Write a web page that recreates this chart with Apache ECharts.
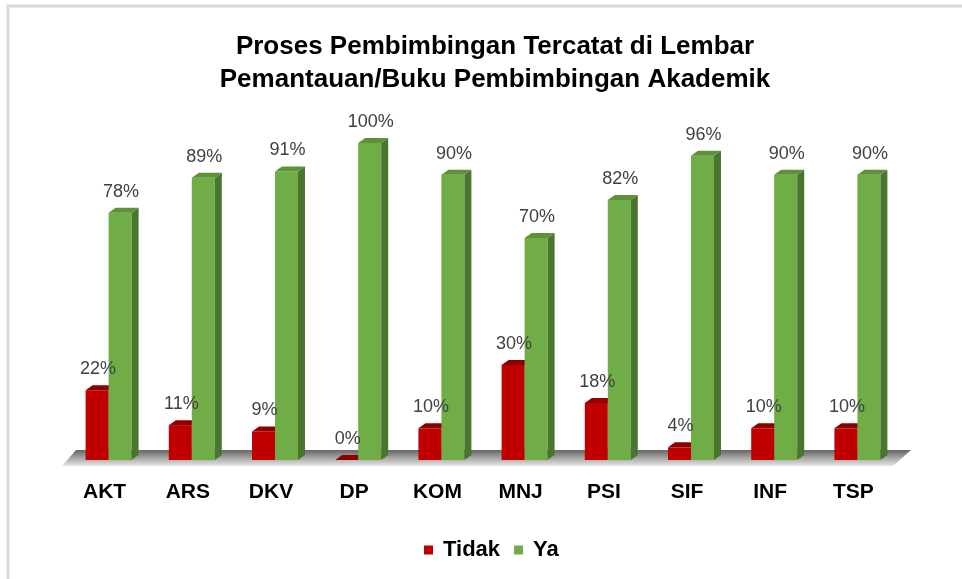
<!DOCTYPE html>
<html>
<head>
<meta charset="utf-8">
<script src="https://cdn.jsdelivr.net/npm/echarts@6/dist/echarts.min.js"></script>
<style>
  html, body { margin: 0; padding: 0; background: #fff; }
  #chart { width: 962px; height: 579px; }
</style>
</head>
<body>
<div id="chart"></div>
<script>
const categories = ['AKT', 'ARS', 'DKV', 'DP', 'KOM', 'MNJ', 'PSI', 'SIF', 'INF', 'TSP'];
const tidakValues = [22, 11, 9, 0, 10, 30, 18, 4, 10, 10];
const yaValues = [78, 89, 91, 100, 90, 70, 82, 96, 90, 90];

const FONT = '"Liberation Sans", Arial, sans-serif';
const BAR_W = 23;
const DEPTH_X = 7;
const DEPTH_Y = 5;

const palette = {
  Tidak: { front: '#C00000', top: '#8E0000', side: '#7A0000' },
  Ya: { front: '#70AD47', top: '#5C9138', side: '#4A7530' }
};

// draws one 3d-looking bar: front face, right side, top face
const makeBar = (name, offset) => (params, api) => {
  const idx = api.value(0);
  const val = api.value(1);
  const base = api.coord([idx, 0]);
  const top = api.coord([idx, val]);
  const left = base[0] + offset;
  const right = left + BAR_W;
  const yTop = top[1];
  const yBase = base[1];
  const c = palette[name];
  return {
    type: 'group',
    children: [
      {
        type: 'rect',
        shape: { x: left, y: yTop, width: BAR_W, height: yBase - yTop },
        style: { fill: c.front }
      },
      {
        type: 'polygon',
        shape: { points: [[right, yTop], [right + DEPTH_X, yTop - DEPTH_Y], [right + DEPTH_X, yBase - DEPTH_Y], [right, yBase]] },
        style: { fill: c.side }
      },
      {
        type: 'polygon',
        shape: { points: [[left, yTop], [left + DEPTH_X, yTop - DEPTH_Y], [right + DEPTH_X, yTop - DEPTH_Y], [right, yTop]] },
        style: { fill: c.top }
      }
    ]
  };
};

// value label above a bar, drawn in its own series so it sits over the bars
const makeLabel = (offset) => (params, api) => {
  const idx = api.value(0);
  const val = api.value(1);
  const base = api.coord([idx, 0]);
  const top = api.coord([idx, val]);
  return {
    type: 'text',
    x: base[0] + offset + BAR_W / 2 + 1,
    y: top[1] - 21,
    style: {
      text: val + '%',
      fill: '#404040',
      fontSize: 18,
      fontFamily: FONT,
      align: 'center',
      verticalAlign: 'middle'
    }
  };
};

// grey floor under the bars
const renderFloor = (params) => {
  const cs = params.coordSys;
  const yBase = cs.y + cs.height;
  return {
    type: 'polygon',
    shape: {
      points: [
        [cs.x + 9, yBase - 10],
        [cs.x + cs.width + 12, yBase - 10],
        [cs.x + cs.width - 6, yBase + 6],
        [cs.x - 5, yBase + 6]
      ]
    },
    style: {
      fill: new echarts.graphic.LinearGradient(0, 0, 0, 1, [
        { offset: 0, color: '#666666' },
        { offset: 1, color: '#e6e6e6' }
      ])
    }
  };
};

const chart = echarts.init(document.getElementById('chart'));

const tidakData = tidakValues.map((v, i) => [i, v]);
const yaData = yaValues.map((v, i) => [i, v]);

const option = {
  backgroundColor: '#fff',
  animation: false,
  title: {
    text: 'Proses Pembimbingan Tercatat di Lembar\nPemantauan/Buku Pembimbingan Akademik',
    left: 490,
    textAlign: 'center',
    top: 25,
    textStyle: {
      fontFamily: FONT,
      fontSize: 26,
      fontWeight: 'bold',
      lineHeight: 33,
      color: '#000'
    }
  },
  legend: {
    data: ['Tidak', 'Ya'],
    left: 419,
    top: 534,
    icon: 'rect',
    itemWidth: 9,
    itemHeight: 9,
    itemGap: 14,
    textStyle: {
      fontFamily: FONT,
      fontSize: 22,
      fontWeight: 'bold',
      color: '#000',
      padding: [0, 0, 0, 5]
    }
  },
  graphic: [
    {
      type: 'rect',
      shape: { x: 8, y: 6, width: 1000, height: 1000 },
      style: { fill: 'none', stroke: '#d9d9d9', lineWidth: 3 },
      silent: true
    }
  ],
  grid: {
    left: 67,
    right: 63,
    top: 143,
    bottom: 119
  },
  xAxis: {
    type: 'category',
    data: categories,
    axisLine: { show: false },
    axisTick: { show: false },
    axisLabel: {
      margin: 22,
      padding: [0, 8, 0, 0],
      color: '#000',
      fontFamily: FONT,
      fontSize: 21,
      fontWeight: 'bold'
    }
  },
  yAxis: {
    type: 'value',
    min: 0,
    max: 100,
    show: false,
    splitLine: { show: false }
  },
  series: [
    {
      name: 'floor',
      type: 'custom',
      renderItem: renderFloor,
      data: [[0, 0]],
      silent: true,
      z: 1
    },
    {
      name: 'Tidak',
      type: 'custom',
      renderItem: makeBar('Tidak', -BAR_W),
      itemStyle: { color: palette.Tidak.front },
      encode: { x: 0, y: 1 },
      data: tidakData,
      z: 2
    },
    {
      name: 'Ya',
      type: 'custom',
      renderItem: makeBar('Ya', 0),
      itemStyle: { color: palette.Ya.front },
      encode: { x: 0, y: 1 },
      data: yaData,
      z: 3
    },
    {
      name: 'Tidak',
      type: 'custom',
      renderItem: makeLabel(-BAR_W),
      encode: { x: 0, y: 1 },
      data: tidakData,
      silent: true,
      z: 5
    },
    {
      name: 'Ya',
      type: 'custom',
      renderItem: makeLabel(0),
      encode: { x: 0, y: 1 },
      data: yaData,
      silent: true,
      z: 5
    }
  ]
};

chart.setOption(option);
window.addEventListener('resize', () => chart.resize());
</script>
</body>
</html>
